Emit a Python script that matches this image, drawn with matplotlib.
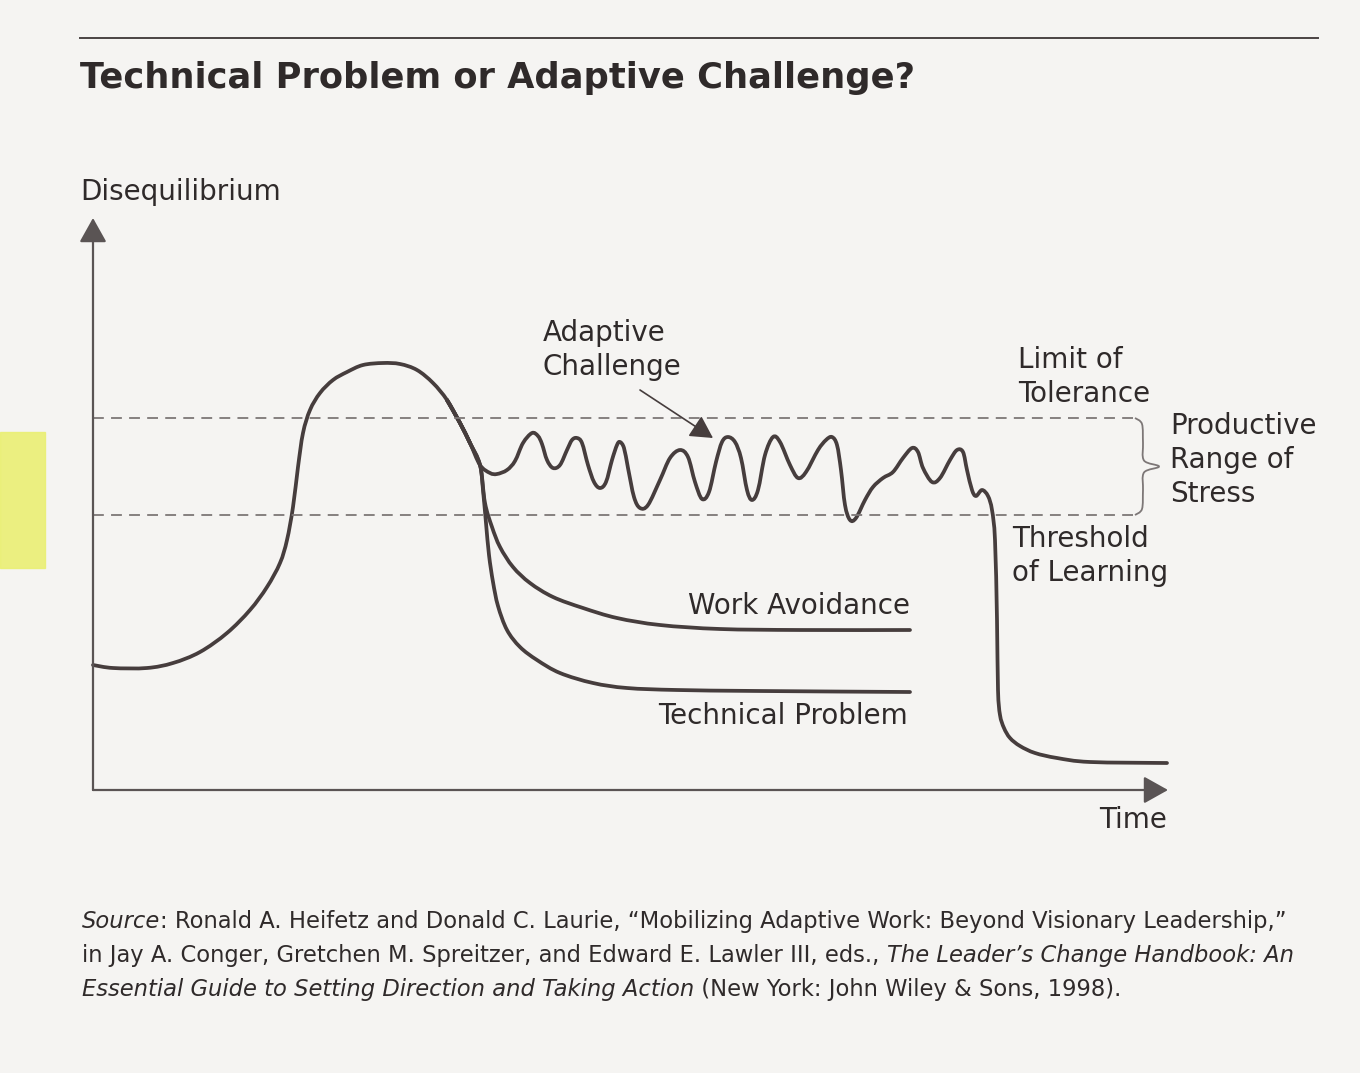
import numpy as np
import matplotlib
matplotlib.use('Agg')
import matplotlib.pyplot as plt
from matplotlib.path import Path
from matplotlib.patches import PathPatch, Rectangle
from matplotlib.lines import Line2D

# --- curve data (time, disequilibrium) ---
hump_t = [0, 2.0, 5.4, 8.0, 10.7, 13.4, 15.7, 17.4, 18.7, 19.4, 20.0, 20.5, 21.0,
          21.7, 22.7, 24.0, 25.4, 27.0, 29.0, 30.7, 32.4, 34.0, 35.4, 36.7, 37.7]
hump_d = [12.5, 12.2, 12.2, 12.7, 13.8, 15.7, 18.0, 20.3, 22.7, 25.0, 28.3, 32.3, 35.7,
          38.0, 39.7, 41.0, 41.8, 42.5, 42.7, 42.6, 42.0, 40.7, 39.0, 36.7, 34.7]

adaptive_t = [35.4, 36.7, 37.7, 38.7, 39.7, 40.4, 41.4, 42.2, 43.0, 43.9, 44.5, 44.9, 45.4,
              46.0, 46.7, 47.4, 47.9, 48.4, 48.9, 49.5, 50.1, 50.7, 51.3, 51.9,
              52.4, 52.7, 53.1, 53.5, 54.1, 54.7, 55.5, 56.7, 57.7, 58.7, 59.5,
              60.2, 60.9, 61.6, 62.3, 62.9, 63.5, 64.2, 64.8, 65.4, 65.9, 66.5,
              67.2, 68.0, 68.7, 69.7, 70.5, 71.3, 72.5, 73.3, 73.9, 74.4, 74.8,
              75.2, 75.7, 76.3, 77.2, 78.0, 79.0, 80.0, 81.0, 81.9, 82.5, 83.0,
              83.9, 84.7, 85.7, 86.4, 87.0, 87.4, 87.9, 88.3, 88.9, 89.5, 89.9,
              90.2, 90.4, 90.5, 90.7, 91.1, 91.7, 92.7, 94.2, 96.4, 99.7, 107.4]
adaptive_d = [39.0, 36.7, 34.7, 32.5, 31.7, 31.6, 32.0, 32.9, 34.7, 35.7, 35.4, 34.6, 33.0,
              32.2, 32.5, 34.0, 35.0, 35.2, 34.7, 32.5, 30.8, 30.2, 30.8, 33.0,
              34.5, 34.8, 34.2, 32.2, 29.3, 28.2, 28.5, 31.0, 33.2, 34.0, 33.3,
              30.8, 29.1, 29.8, 32.8, 34.8, 35.3, 34.8, 33.2, 30.0, 29.0, 30.0,
              33.5, 35.3, 34.8, 32.5, 31.2, 31.8, 34.0, 35.0, 35.3, 34.5, 32.0,
              28.5, 27.0, 27.2, 29.0, 30.3, 31.2, 31.8, 33.2, 34.2, 33.8, 32.2,
              30.8, 31.2, 33.0, 34.0, 33.8, 32.0, 30.0, 29.4, 30.0, 29.4, 28.0,
              25.0, 17.0, 10.0, 7.5, 6.2, 5.2, 4.4, 3.7, 3.2, 2.8, 2.7]

avoid_t = [35.4, 36.7, 37.7, 38.7, 39.2, 39.9, 40.7, 42.0, 43.7, 46.0, 49.0, 52.4,
           56.7, 62.7, 70.7, 81.7]
avoid_d = [39.0, 36.7, 34.7, 32.5, 28.7, 26.3, 24.3, 22.3, 20.7, 19.3, 18.2, 17.2,
           16.5, 16.1, 16.0, 16.0]

tech_t = [35.4, 36.7, 37.7, 38.7, 39.0, 39.3, 39.6, 40.0, 40.5, 41.4, 42.7, 44.4,
          46.7, 50.0, 53.4, 58.4, 66.7, 81.7]
tech_d = [39.0, 36.7, 34.7, 32.5, 30.0, 26.7, 23.5, 20.8, 18.4, 16.0, 14.3, 13.0,
          11.7, 10.7, 10.2, 10.0, 9.9, 9.8]

limit_of_tolerance = 37.2
threshold_of_learning = 27.5
band_end = 104.2

INK = '#463d3d'
AXIS = '#5a5454'
DASH = '#7d7777'
TXT = '#2f2a2a'
BG = '#f5f4f2'
W, H = 1360, 1073


def smooth_path(xs, ys):
    # catmull-rom through the read points, drawn as cubic beziers
    p = np.column_stack([xs, ys]).astype(float)
    n = len(p)
    verts = [p[0]]
    codes = [Path.MOVETO]
    for i in range(n - 1):
        p0 = p[max(i - 1, 0)]
        p1 = p[i]
        p2 = p[i + 1]
        p3 = p[min(i + 2, n - 1)]
        verts += [p1 + (p2 - p0) / 6, p2 - (p3 - p1) / 6, p2]
        codes += [Path.CURVE4] * 3
    return Path(verts, codes)


fig = plt.figure(figsize=(W / 100, H / 100), dpi=100, facecolor=BG)
ax = fig.add_axes([0, 0, 1, 1])
ax.set_facecolor(BG)
ax.set_xlim(-9.3, 126.7)
ax.set_ylim(-28.3, 79.0)
ax.axis('off')

# highlighter mark on the page edge
fig.patches.append(Rectangle((0.0, 1 - 568 / H), 45 / W, 136 / H,
                             transform=fig.transFigure, color='#eaef74',
                             alpha=0.9, zorder=0))

# top rule and title
fig.add_artist(Line2D([80 / W, 1318 / W], [1 - 38 / H] * 2,
                      color='#4a4444', lw=1.4))
fig.text(80 / W, 1 - 78 / H, 'Technical Problem or Adaptive Challenge?',
         fontsize=25.4, fontweight='bold', color=TXT, va='center', ha='left')

# axes with arrows
arrow_style = '-|>,head_length=0.5,head_width=0.28'
ax.annotate('', xy=(0, 57.2), xytext=(0, 0),
            arrowprops=dict(arrowstyle=arrow_style, mutation_scale=30,
                            lw=1.6, color=AXIS, shrinkA=0, shrinkB=0))
ax.annotate('', xy=(107.5, 0), xytext=(0, 0),
            arrowprops=dict(arrowstyle=arrow_style, mutation_scale=30,
                            lw=1.6, color=AXIS, shrinkA=0, shrinkB=0))

# productive range band
for level in (limit_of_tolerance, threshold_of_learning):
    ax.plot([0, band_end], [level, level], color=DASH, lw=1.3,
            dashes=(6, 4))

# curly brace on the right of the band
mid = (limit_of_tolerance + threshold_of_learning) / 2
bx = band_end
brace_t = [bx, bx + 0.7, bx + 0.8, bx + 0.9, bx + 2.4, bx + 0.9, bx + 0.8, bx + 0.7, bx]
brace_d = [limit_of_tolerance, limit_of_tolerance - 0.6, limit_of_tolerance - 2.5,
           mid + 0.6, mid, mid - 0.6, threshold_of_learning + 2.5,
           threshold_of_learning + 0.6, threshold_of_learning]
ax.add_patch(PathPatch(smooth_path(brace_t, brace_d), fill=False,
                       edgecolor=DASH, lw=1.3))

# the three responses
for xs, ys in [(hump_t, hump_d), (adaptive_t, adaptive_d),
               (avoid_t, avoid_d), (tech_t, tech_d)]:
    ax.add_patch(PathPatch(smooth_path(xs, ys), fill=False, edgecolor=INK,
                           lw=2.7, capstyle='round', joinstyle='round'))

# labels
lab = dict(fontsize=20, color=TXT, linespacing=1.25)
ax.text(-1.3, 59.8, 'Disequilibrium', ha='left', va='center', **lab)
ax.text(107.4, -3.0, 'Time', ha='right', va='center', **lab)
ax.text(45.0, 44.0, 'Adaptive\nChallenge', ha='left', va='center', **lab)
ax.text(92.5, 41.3, 'Limit of\nTolerance', ha='left', va='center', **lab)
ax.text(107.7, 33.0, 'Productive\nRange of\nStress', ha='left', va='center', **lab)
ax.text(91.9, 23.4, 'Threshold\nof Learning', ha='left', va='center', **lab)
ax.text(81.7, 18.4, 'Work Avoidance', ha='right', va='center', **lab)
ax.text(81.5, 7.4, 'Technical Problem', ha='right', va='center', **lab)

ax.annotate('', xy=(62.0, 35.2), xytext=(54.7, 40.0),
            arrowprops=dict(arrowstyle='-|>,head_length=0.55,head_width=0.3',
                            mutation_scale=25, lw=1.2, color=INK,
                            shrinkA=0, shrinkB=0))

# source note, mixing italic and roman runs on each line
src_lines = [
    [('Source', 'italic'), (': Ronald A. Heifetz and Donald C. Laurie, \u201cMobilizing Adaptive Work: '
                            'Beyond Visionary Leadership,\u201d', 'normal')],
    [('in Jay A. Conger, Gretchen M. Spreitzer, and Edward E. Lawler III, eds., ', 'normal'),
     ('The Leader\u2019s Change Handbook: An', 'italic')],
    [('Essential Guide to Setting Direction and Taking Action', 'italic'),
     (' (New York: John Wiley & Sons, 1998).', 'normal')],
]
src_baseline = [928, 962, 996]
renderer = fig.canvas.get_renderer()
for runs, py in zip(src_lines, src_baseline):
    x = 82 / W
    for s, style in runs:
        t = fig.text(x, 1 - py / H, s, fontsize=16.3, color=TXT, style=style,
                     va='baseline', ha='left')
        x = t.get_window_extent(renderer).x1 / fig.bbox.width

fig.savefig('out.png', dpi=100, facecolor=BG)
